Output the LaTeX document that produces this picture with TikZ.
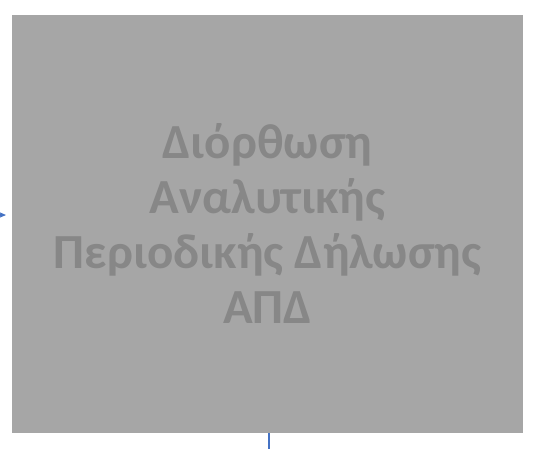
\documentclass[tikz,border=0pt]{standalone}
\usepackage{fontspec}
\setmainfont{Carlito}
\usetikzlibrary{arrows.meta}
\definecolor{boxgray}{HTML}{A6A6A6}
\definecolor{txtgray}{HTML}{878787}
\definecolor{lineblue}{HTML}{4472C4}
\tikzset{
  procbox/.style={fill=boxgray, draw=none, minimum width=511pt, minimum height=418pt, inner sep=0pt,
    align=center, text=txtgray, font=\fontsize{49}{55}\selectfont\bfseries},
  conn/.style={draw=lineblue, line width=1.5pt},
}
\begin{document}
\begin{tikzpicture}[x=1pt,y=-1pt]
\useasboundingbox (0,0) rectangle (554,448);
\node[procbox] (box) at (267.5,224) {Διόρθωση\\Αναλυτικής\\Περιοδικής Δήλωσης\\ΑΠΔ};
\coordinate (inL) at (-20,215);
\coordinate (inR) at (6,215);
\coordinate (outB) at (269,460);
\draw[conn, -{Stealth[length=7pt,width=6pt]}] (inL) -- (inR);
\draw[conn] (box.south -| outB) -- (outB);
\end{tikzpicture}
\end{document}
